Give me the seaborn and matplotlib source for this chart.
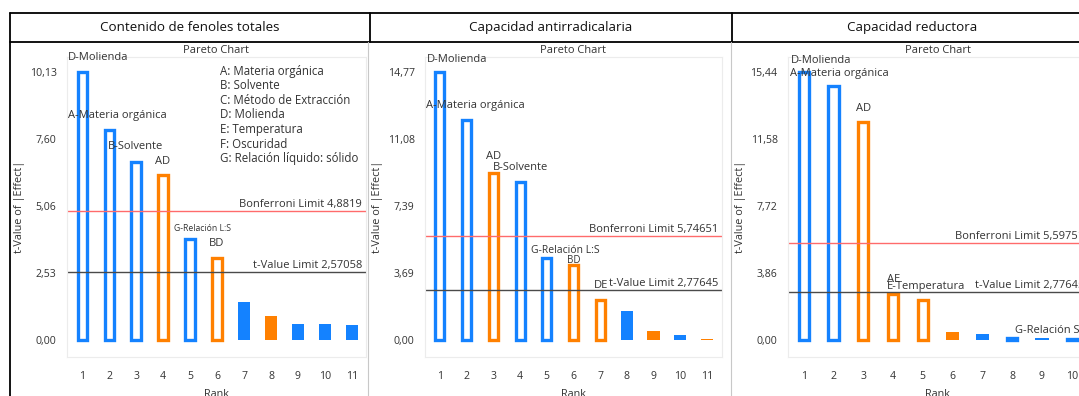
import numpy as np
import pandas as pd
import matplotlib
matplotlib.use("Agg")
import matplotlib.pyplot as plt
import matplotlib.transforms as mtransforms
import seaborn as sns

sns.set_theme(style="white")
plt.rcParams["font.family"] = ["Open Sans", "DejaVu Sans"]

W, H, DPI = 1079, 396, 100

# ---------------- data ----------------
# Panel 1: total phenolic content
FEN_T = [10.13, 7.94, 6.73, 6.24, 3.82, 3.10, 1.44, 0.91, 0.60, 0.60, 0.57]
FEN_SIGN = ["+", "+", "+", "-", "+", "-", "+", "-", "+", "+", "+"]
FEN_IN_MODEL = [True, True, True, True, True, True, False, False, False, False, False]
FEN_TICKS = [0.00, 2.53, 5.06, 7.60, 10.13]
FEN_TICKLABELS = ["0,00", "2,53", "5,06", "7,60", "10,13"]
FEN_BONF, FEN_BONF_TXT = 4.8819, "Bonferroni Limit 4,8819"
FEN_TLIM, FEN_TLIM_TXT = 2.57058, "t-Value Limit 2,57058"

# Panel 2: antiradical capacity
ANT_T = [14.77, 12.13, 9.21, 8.71, 4.52, 4.13, 2.20, 1.60, 0.48, 0.30, 0.04]
ANT_SIGN = ["+", "+", "-", "+", "+", "-", "-", "+", "-", "+", "-"]
ANT_IN_MODEL = [True, True, True, True, True, True, True, False, False, False, False]
ANT_TICKS = [0.00, 3.69, 7.39, 11.08, 14.77]
ANT_TICKLABELS = ["0,00", "3,69", "7,39", "11,08", "14,77"]
ANT_BONF, ANT_BONF_TXT = 5.74651, "Bonferroni Limit 5,74651"
ANT_TLIM, ANT_TLIM_TXT = 2.77645, "t-Value Limit 2,77645"

# Panel 3: reducing capacity
RED_T = [15.44, 14.61, 12.54, 2.65, 2.32, 0.47, 0.34, 0.13, 0.10, 0.04]
RED_SIGN = ["+", "+", "-", "-", "-", "-", "+", "+", "+", "+"]
RED_IN_MODEL = [True, True, True, True, True, False, False, True, False, True]
RED_TICKS = [0.00, 3.86, 7.72, 11.58, 15.44]
RED_TICKLABELS = ["0,00", "3,86", "7,72", "11,58", "15,44"]
RED_BONF, RED_BONF_TXT = 5.59751, "Bonferroni Limit 5,59751"
RED_TLIM, RED_TLIM_TXT = 2.77645, "t-Value Limit 2,77645"

TITLES = ["Contenido de fenoles totales", "Capacidad antirradicalaria", "Capacidad reductora"]

FACTORS = ["A: Materia orgánica", "B: Solvente", "C: Método de Extracción", "D: Molienda",
           "E: Temperatura", "F: Oscuridad", "G: Relación líquido: sólido"]

# term labels: (text, x in rank units, y in t units, font size)
FEN_LABELS = [("D-Molienda", 0.48, 10.66, 8), ("A-Materia orgánica", 0.48, 8.47, 8),
              ("B-Solvente", 1.96, 7.30, 8), ("AD", 3.70, 6.76, 8),
              ("G-Relación L:S", 4.41, 4.23, 6.2), ("BD", 5.70, 3.66, 8)]
ANT_LABELS = [("D-Molienda", 0.50, 15.47, 8), ("A-Materia orgánica", 0.48, 12.90, 8),
              ("AD", 2.71, 10.10, 8), ("B-Solvente", 3.00, 9.52, 8),
              ("G-Relación L:S", 4.40, 4.96, 7.5), ("BD", 5.77, 4.37, 7), ("DE", 6.78, 3.03, 8)]
RED_LABELS = [("D-Molienda", 0.55, 16.10, 8), ("A-Materia orgánica", 0.55, 15.37, 8),
              ("AD", 2.74, 13.36, 8), ("AE", 3.80, 3.50, 8), ("E-Temperatura", 3.80, 3.08, 8),
              ("G-Relación S:L", 8.10, 0.53, 8)]

BLUE, ORANGE = "#1482ff", "#ff8000"
PALETTE = {"+": BLUE, "-": ORANGE}

# ---------------- layout (pixels) ----------------
# plot box: left, top, right, bottom ; pixel rows of the zero line and of the top tick
BOXES = [(67, 57, 366, 357), (425, 57, 722, 357), (788, 57, 1088, 357)]
ZERO_PX, TOP_PX = 340, 72
XLIMS = [(0.44, 11.52), (0.44, 11.56), (0.47, 10.55)]

fig = plt.figure(figsize=(W / DPI, H / DPI), dpi=DPI)
fig.patch.set_facecolor("white")

# frame: header cells and panel separators
frame = fig.add_axes([0, 0, 1, 1])
frame.set_xlim(0, W)
frame.set_ylim(H, 0)
frame.axis("off")
frame.plot([10, W + 20], [13, 13], color="black", lw=1.3)
frame.plot([10, W + 20], [42, 42], color="black", lw=1.3)
frame.plot([10, 10], [13, H + 5], color="black", lw=1.3)
for xv in (370, 732):
    frame.plot([xv, xv], [13, 42], color="black", lw=1.3)
for xv in (368, 731):
    frame.plot([xv, xv], [42, H + 5], color="#c8c8c8", lw=0.8)
for title, cx in zip(TITLES, [190, 551, 912]):
    frame.text(cx, 27.5, title, ha="center", va="center", fontsize=9.6, color="#111111")

panels = [
    (FEN_T, FEN_SIGN, FEN_IN_MODEL, FEN_TICKS, FEN_TICKLABELS, FEN_BONF, FEN_BONF_TXT,
     FEN_TLIM, FEN_TLIM_TXT, FEN_LABELS),
    (ANT_T, ANT_SIGN, ANT_IN_MODEL, ANT_TICKS, ANT_TICKLABELS, ANT_BONF, ANT_BONF_TXT,
     ANT_TLIM, ANT_TLIM_TXT, ANT_LABELS),
    (RED_T, RED_SIGN, RED_IN_MODEL, RED_TICKS, RED_TICKLABELS, RED_BONF, RED_BONF_TXT,
     RED_TLIM, RED_TLIM_TXT, RED_LABELS),
]

TEXT_C = "#333333"

for i, (tvals, signs, in_model, ticks, ticklabels, bonf, bonf_txt, tlim, tlim_txt, labels) in enumerate(panels):
    x0, y0, x1, y1 = BOXES[i]
    ax = fig.add_axes([x0 / W, 1 - y1 / H, (x1 - x0) / W, (y1 - y0) / H])
    ranks = list(range(1, len(tvals) + 1))
    df = pd.DataFrame({"rank": ranks, "t": tvals, "sign": signs, "model": in_model})

    filled = df[~df["model"]]
    hollow = df[df["model"]]
    if len(filled):
        sns.barplot(data=filled, x="rank", y="t", hue="sign", palette=PALETTE,
                    native_scale=True, dodge=False, width=0.46, errorbar=None,
                    saturation=1, legend=False, linewidth=0, ax=ax)
    sns.barplot(data=hollow, x="rank", y="t", hue="sign", palette=PALETTE,
                native_scale=True, dodge=False, width=0.34, errorbar=None,
                saturation=1, legend=False, fill=False, linewidth=2.4, ax=ax)

    # limit lines
    ax.axhline(bonf, color="#ff6b6b", lw=1.0, zorder=1)
    ax.axhline(tlim, color="#4a4a4a", lw=1.0, zorder=1)
    blend = mtransforms.blended_transform_factory(ax.transAxes, ax.transData)
    for val, txt in ((bonf, bonf_txt), (tlim, tlim_txt)):
        ax.annotate(txt, xy=(0.987, val), xycoords=blend, xytext=(0, 0.5),
                    textcoords="offset points", ha="right", va="bottom",
                    fontsize=8, color=TEXT_C)

    # scales: zero line and top tick at fixed pixel rows
    top = ticks[-1]
    ppu = (ZERO_PX - TOP_PX) / top
    ax.set_ylim(-(y1 - ZERO_PX) / ppu, top + (TOP_PX - y0) / ppu)
    ax.set_xlim(*XLIMS[i])
    ax.set_yticks(ticks)
    ax.set_yticklabels(ticklabels)
    ax.set_xticks(ranks)
    ax.set_xticklabels([str(r) for r in ranks])
    ax.tick_params(axis="both", which="major", length=4, width=0.8, color="#d9d9d9",
                   labelsize=7.6, labelcolor=TEXT_C)
    ax.tick_params(axis="y", pad=3.5)
    ax.tick_params(axis="x", pad=6)
    for sp in ax.spines.values():
        sp.set_color("#ececec")
        sp.set_linewidth(0.8)
    ax.set_xlabel("Rank", fontsize=7.8, color=TEXT_C, labelpad=5)
    ax.set_ylabel("t-Value of |Effect|", fontsize=7.8, color=TEXT_C, labelpad=3)
    ax.set_title("Pareto Chart", fontsize=8, color=TEXT_C, pad=3)

    for txt, lx, ly, fs in labels:
        ax.text(lx, ly, txt, ha="left", va="center", fontsize=fs, color=TEXT_C, zorder=5)

    if i == 0:
        for k, line in enumerate(FACTORS):
            ax.text(0.513, 1 - (71 + 14.6 * k - y0) / (y1 - y0), line,
                    transform=ax.transAxes, ha="left", va="center",
                    fontsize=8.3, color=TEXT_C)

fig.savefig("out.png", dpi=DPI, facecolor="white")
